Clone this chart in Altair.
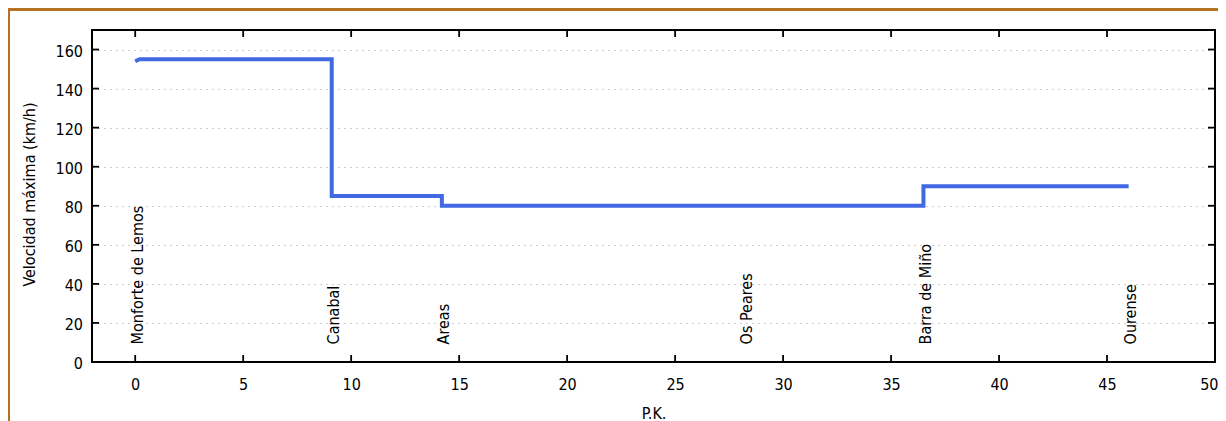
import altair as alt
import pandas as pd

# --- data ---
pk = [0.0, 0.2, 9.1, 9.1, 14.2, 14.2, 36.5, 36.5, 46.0]
vel = [154, 155, 155, 85, 85, 80, 80, 90, 90]

stations = ["Monforte de Lemos", "Canabal", "Areas", "Os Peares", "Barra de Miño", "Ourense"]
station_pk = [0.0, 9.1, 14.2, 28.2, 36.5, 46.0]
label_level = 9

x_ticks = [0, 5, 10, 15, 20, 25, 30, 35, 40, 45, 50]
y_ticks = [0, 20, 40, 60, 80, 100, 120, 140, 160]

W, H = 1123, 332
FONT = "DejaVu Sans Condensed, Open Sans, sans-serif"
BLUE = "#4169e1"

line_df = pd.DataFrame({"pk": pk, "vel": vel, "i": list(range(len(pk)))})
st_df = pd.DataFrame({"pk": station_pk, "name": stations, "vel": [label_level] * len(stations)})
xt_df = pd.DataFrame({"pk": x_ticks})
yt_df = pd.DataFrame({"vel": y_ticks})

xs = alt.Scale(domain=[-2, 50], nice=False, zero=False)
ys = alt.Scale(domain=[0, 170], nice=False, zero=False)

xaxis = alt.Axis(values=x_ticks, title="P.K.", grid=False, ticks=False, tickSize=0,
                 domain=False, labelPadding=14, labelFontSize=16, titleFontSize=16,
                 titleFontWeight="normal", titleY=43, titleBaseline="top",
                 labelColor="black", titleColor="black", labelFont=FONT, titleFont=FONT,
                 labelFlush=True, labelFlushOffset=3, format="d")
yaxis = alt.Axis(values=y_ticks, title="Velocidad máxima (km/h)", grid=True,
                 gridDash=[1, 5], gridColor="#9a9a9a", gridWidth=1,
                 ticks=False, tickSize=0, domain=False, labelPadding=9.5,
                 labelFontSize=16, labelOffset=1.5, titleFontSize=16,
                 titleFontWeight="normal", titleX=-63, titleY=H / 2 - 2,
                 titleBaseline="middle", labelColor="black", titleColor="black",
                 labelFont=FONT, titleFont=FONT, format="d")


def X(field="pk"):
    return alt.X(f"{field}:Q", scale=xs, axis=xaxis)


def Y(field="vel"):
    return alt.Y(f"{field}:Q", scale=ys, axis=yaxis)


outer = alt.Chart(xt_df).mark_rect(fillOpacity=0, stroke="#b5701f", strokeWidth=1.5).encode(
    x=alt.value(-83.5), x2=alt.value(W + 300), y=alt.value(-20.5), y2=alt.value(H + 300)
)

line = alt.Chart(line_df).mark_line(color=BLUE, strokeWidth=4, strokeJoin="miter",
                                   strokeCap="butt").encode(
    x=X(), y=Y(), order=alt.Order("i:Q")
)

tick_style = dict(color="black", strokeWidth=1.8)
tl = alt.Chart(yt_df).mark_rule(**tick_style).encode(y=Y(), x=alt.value(0), x2=alt.value(7))
tr = alt.Chart(yt_df).mark_rule(**tick_style).encode(y=Y(), x=alt.value(W - 7), x2=alt.value(W))
tb = alt.Chart(xt_df).mark_rule(**tick_style).encode(x=X(), y=alt.value(H - 7), y2=alt.value(H))
tt = alt.Chart(xt_df).mark_rule(**tick_style).encode(x=X(), y=alt.value(0), y2=alt.value(7))

frame = alt.Chart(xt_df).mark_rect(fillOpacity=0, stroke="black", strokeWidth=1.8).encode(
    x=alt.value(0), x2=alt.value(W), y=alt.value(0), y2=alt.value(H)
)

labels = alt.Chart(st_df).mark_text(angle=270, align="left", baseline="middle", dy=2.5,
                                    fontSize=16, font=FONT, color="black").encode(
    x=X(), y=Y(), text="name:N"
)

chart = alt.layer(outer, line, tl, tr, tb, tt, frame, labels).properties(
    width=W, height=H,
    autosize=alt.AutoSizeParams(type="none"),
    padding={"left": 84, "top": 22, "right": 3, "bottom": 59},
    background="white",
).configure_view(stroke=None)

chart.save("out.html", embed_options={"renderer": "svg", "actions": False})
